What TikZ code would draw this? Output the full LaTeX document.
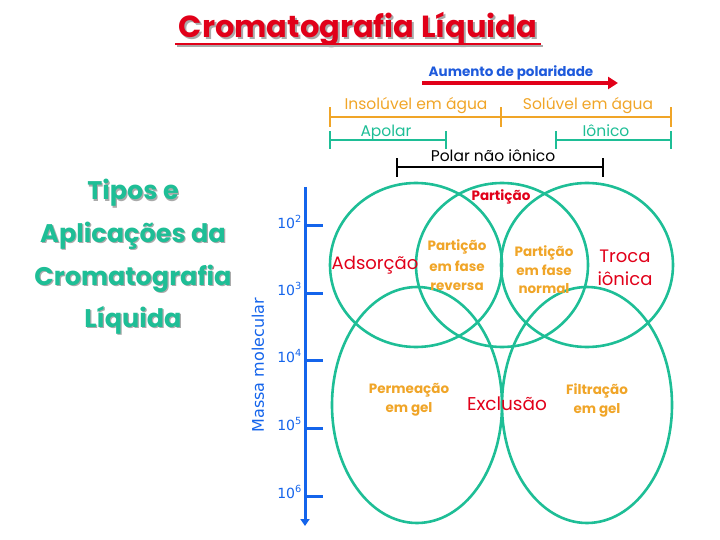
\documentclass[tikz,border=0pt]{standalone}
\usepackage{fontspec}
\setmainfont{DejaVu Sans}
\newfontfamily\comic{Poppins}
\usetikzlibrary{arrows.meta}
\definecolor{teal1}{RGB}{30,190,150}
\definecolor{orng}{RGB}{240,165,40}
\definecolor{redd}{RGB}{225,0,25}
\definecolor{bluax}{RGB}{20,100,235}
\definecolor{blutx}{RGB}{30,90,220}
\definecolor{shadc}{RGB}{170,170,170}
\newcommand{\fs}[1]{\fontsize{#1}{#1}\selectfont}
\newcommand{\shadtext}[2]{\makebox[0pt][l]{\hspace{#1}\raisebox{-#1}{\textcolor{shadc}{#2}}}#2}
\begin{document}
\begin{tikzpicture}[x=1pt,y=-1pt,
  txt/.style={inner sep=0pt,anchor=base,font=\comic},
  circ/.style={draw=teal1,line width=2.6pt},
  bar/.style={line width=2.6pt},
  lefttxt/.style={txt,text=teal1,font=\comic\bfseries\fs{25.5}},
  small/.style={txt,font=\comic\bfseries\fs{13.5}}]
\useasboundingbox (0,0) rectangle (720,540);
% title
\node[txt,text=redd,font=\comic\bfseries\fs{30.5}] (title) at (358,38) {\shadtext{2pt}{Cromatografia Líquida}};
\coordinate (ul1) at (175,44); \coordinate (ul2) at (541,44);
\draw[shadc,line width=2pt] ([shift={(2,2)}]ul1) -- ([shift={(2,2)}]ul2);
\draw[redd,line width=2pt] (ul1) -- (ul2);
% left text
\node[lefttxt] (l1) at (133,200) {\shadtext{1.2pt}{Tipos e}};
\node[lefttxt] (l2) at (133,242) {\shadtext{1.2pt}{Aplicações da}};
\node[lefttxt] (l3) at (133,285) {\shadtext{1.2pt}{Cromatografia}};
\node[lefttxt] (l4) at (133,327) {\shadtext{1.2pt}{Líquida}};
% polarity
\node[txt,text=blutx,font=\comic\bfseries\fs{13.5}] (aum) at (511,77) {Aumento de polaridade};
\coordinate (ar1) at (422,83); \coordinate (ar2) at (618,83);
\draw[redd,line width=3.5pt,-{Triangle[length=10pt,width=12pt]}] (ar1) -- (ar2);
\node[txt,text=orng,font=\comic\fs{15.5}] (ins) at (416,110) {Insolúvel em água};
\node[txt,text=orng,font=\comic\fs{15.5}] (sol) at (588,110) {Solúvel em água};
\coordinate (o1) at (330,117); \coordinate (o2) at (501,117); \coordinate (o3) at (671,117);
\draw[orng,bar] (o1) -- (o3);
\foreach \c in {o1,o2,o3} \draw[orng,bar] ([yshift=-10pt]\c) -- ([yshift=10pt]\c);
\node[txt,text=teal1,font=\comic\fs{15.5}] (apo) at (386,137) {Apolar};
\node[txt,text=teal1,font=\comic\fs{15.5}] (ion) at (606,137) {Iônico};
\coordinate (t1) at (330,140); \coordinate (t2) at (446,140);
\coordinate (t3) at (556,140); \coordinate (t4) at (671,140);
\draw[teal1,bar] (t1) -- (t2); \draw[teal1,bar] (t3) -- (t4);
\foreach \c in {t1,t2,t3,t4} \draw[teal1,bar] ([yshift=-9pt]\c) -- ([yshift=9pt]\c);
\node[txt,text=black,font=\comic\fs{15.5}] (pol) at (493,162) {Polar não iônico};
\coordinate (b1) at (397,167); \coordinate (b2) at (603,167);
\draw[black,bar] (b1) -- (b2);
\foreach \c in {b1,b2} \draw[black,bar] ([yshift=-10pt]\c) -- ([yshift=9pt]\c);
% axis
\coordinate (ax1) at (305,187); \coordinate (ax2) at (305,526);
\draw[bluax,line width=3pt,-{Triangle[length=7pt,width=9pt]}] (ax1) -- (ax2);
\foreach \y/\e in {226/2,293/3,360/4,428/5,496/6}{
  \coordinate (tk\e) at (305,\y);
  \draw[bluax,line width=3pt] (tk\e) -- ++(18,0);
  \node[text=bluax,font=\fs{14},inner sep=0pt,anchor=east] (lb\e) at (302,\y-4) {10\textsuperscript{\e}};
}
\node[text=bluax,font=\fs{16},inner sep=0pt,rotate=90] (mm) at (258,365) {Massa molecular};
% circles
\draw[circ] (416,265) ellipse [x radius=86,y radius=82];
\draw[circ] (502,265) ellipse [x radius=86,y radius=82];
\draw[circ] (587,265) ellipse [x radius=86,y radius=82];
\draw[circ] (417,405) ellipse [x radius=85,y radius=118];
\draw[circ] (587,405) ellipse [x radius=85,y radius=118];
% labels
\node[small,text=redd] (part) at (501,201) {Partição};
\node[txt,text=redd,font=\comic\fs{18}] (ads) at (375,269) {Adsorção};
\node[small,text=orng] (r1) at (457,250) {Partição};
\node[small,text=orng] (r2) at (457,271) {em fase};
\node[small,text=orng] (r3) at (457,290) {reversa};
\node[small,text=orng] (n1) at (544,256) {Partição};
\node[small,text=orng] (n2) at (544,275) {em fase};
\node[small,text=orng] (n3) at (544,293) {normal};
\node[txt,text=redd,font=\comic\fs{18}] (tr1) at (625,262) {Troca};
\node[txt,text=redd,font=\comic\fs{18}] (tr2) at (625,285) {iônica};
\node[small,text=orng] (p1) at (409,393) {Permeação};
\node[small,text=orng] (p2) at (409,412) {em gel};
\node[txt,text=redd,font=\comic\fs{18.5}] (exc) at (507,410) {Exclusão};
\node[small,text=orng] (f1) at (597,394) {Filtração};
\node[small,text=orng] (f2) at (597,413) {em gel};
\end{tikzpicture}
\end{document}
